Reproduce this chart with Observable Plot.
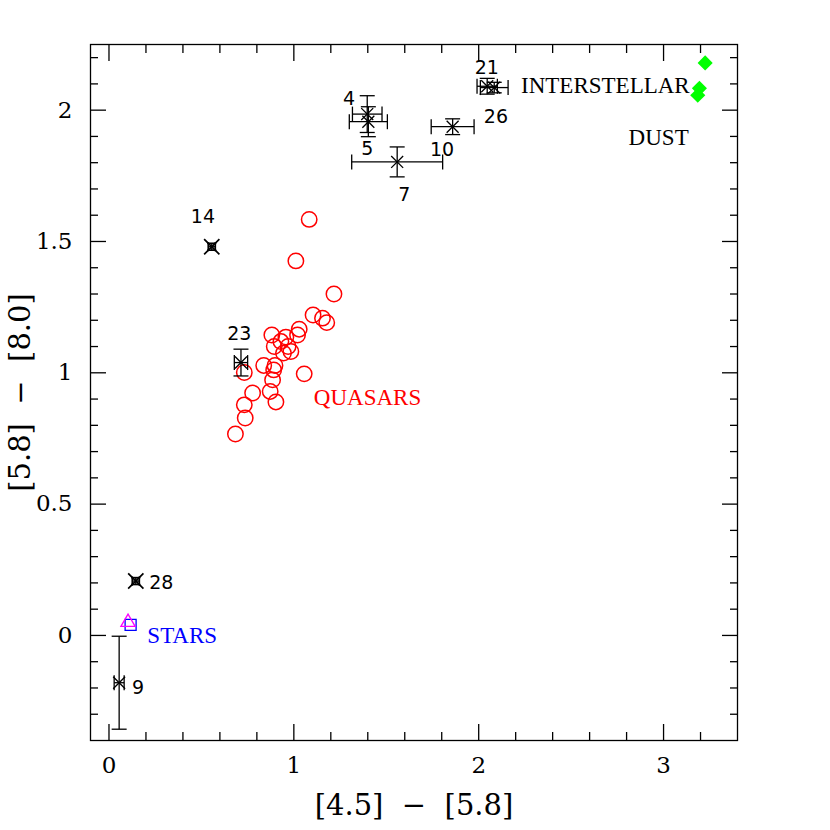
<!DOCTYPE html>
<html><head><meta charset="utf-8">
<script src="https://cdn.jsdelivr.net/npm/d3@7"></script>
<script src="https://cdn.jsdelivr.net/npm/@observablehq/plot@0.6"></script>
<style>body{margin:0;background:#fff;}</style>
</head><body><div id="chart"></div>
<script>
// Quasars (red open circles)
const quasarX = [1.083,1.011,1.217,1.104,1.155,1.178,1.029,1.020,0.881,0.957,0.930,0.894,0.969,0.944,0.984,0.837,0.898,0.891,0.732,1.056,0.885,0.777,0.872,0.903,0.732,0.737,0.684];
const quasarY = [1.584,1.426,1.300,1.220,1.208,1.191,1.166,1.144,1.144,1.136,1.119,1.100,1.100,1.075,1.081,1.028,1.028,1.011,1.001,0.996,0.973,0.923,0.929,0.889,0.878,0.828,0.767];

// Numbered objects with error bars
const objName = ["4","5","7","10","21","26","14","23","28","9"];
const objX    = [1.397,1.403,1.559,1.859,2.046,2.084,0.556,0.714,0.145,0.055];
const objY    = [1.985,1.956,1.803,1.937,2.091,2.086,1.480,1.039,0.207,-0.180];
const objXErr = [0.080,0.103,0.246,0.116,0.055,0.075,0.019,0.036,0.019,0.027];
const objYErr = [0.070,0.057,0.057,0.030,0.030,0.020,0.013,0.051,0.013,0.177];
const objLabelX = [1.298,1.397,1.598,1.802,2.044,2.093,0.508,0.705,0.283,0.157];
const objLabelY = [2.041,1.854,1.677,1.848,2.159,1.975,1.594,1.147,0.200,-0.199];

// Interstellar dust (green diamonds)
const dustX = [3.225,3.194,3.185];
const dustY = [2.180,2.083,2.057];

// Stars
const starTriX = [0.103], starTriY = [0.050];
const starSqX = [0.117], starSqY = [0.040];

// Annotations
const noteText  = ["INTERSTELLAR","DUST","QUASARS","STARS"];
const noteX     = [2.229,2.811,1.108,0.2075];
const noteY     = [2.095,1.894,0.905,0.000];
const noteColor = ["black","black","red","blue"];

// Ticks
const xMajor = [0,1,2,3];
const xMinor = [0.2,0.4,0.6,0.8,1.2,1.4,1.6,1.8,2.2,2.4,2.6,2.8,3.2];
const yMajor = [0,0.5,1,1.5,2];
const yMinor = [-0.3,-0.2,-0.1,0.1,0.2,0.3,0.4,0.6,0.7,0.8,0.9,1.1,1.2,1.3,1.4,1.6,1.7,1.8,1.9,2.1,2.2];

const xTitle = "[4.5]\u00a0\u00a0\u2212\u00a0\u00a0[5.8]";
const yTitle = "[5.8]\u00a0\u00a0\u2212\u00a0\u00a0[8.0]";

const quasars = quasarX.map((x,i)=>({x, y: quasarY[i]}));
const objs = objName.map((n,i)=>({n, x: objX[i], y: objY[i], xe: objXErr[i], ye: objYErr[i], lx: objLabelX[i], ly: objLabelY[i]}));
const dust = dustX.map((x,i)=>({x, y: dustY[i]}));
const notes = noteText.map((t,i)=>({t, x: noteX[i], y: noteY[i], c: noteColor[i]}));

const hCap = {draw(ctx, size){ const r = Math.sqrt(size/Math.PI); ctx.moveTo(-r,0); ctx.lineTo(r,0);} };
const vCap = {draw(ctx, size){ const r = Math.sqrt(size/Math.PI); ctx.moveTo(0,-r); ctx.lineTo(0,r);} };
// tiny error bars get shorter caps (they merge into an asterisk)
const tiny = d => d.xe < 0.025;
const big = d => !tiny(d);

const SW = 1.3, TICK = 16, MINOR = 8;
const tickAxes = [];
for (const [ticks, len] of [[xMajor, TICK],[xMinor, MINOR]]) {
  tickAxes.push(Plot.axisX({anchor:"bottom", ticks, tickSize: len, dy: -len, fill:"none", label:null, strokeWidth:SW, stroke:"black"}));
  tickAxes.push(Plot.axisX({anchor:"top", ticks, tickSize: len, dy: len, fill:"none", label:null, strokeWidth:SW, stroke:"black"}));
}
for (const [ticks, len] of [[yMajor, TICK],[yMinor, MINOR]]) {
  tickAxes.push(Plot.axisY({anchor:"left", ticks, tickSize: len, dx: len, fill:"none", label:null, strokeWidth:SW, stroke:"black"}));
  tickAxes.push(Plot.axisY({anchor:"right", ticks, tickSize: len, dx: -len, fill:"none", label:null, strokeWidth:SW, stroke:"black"}));
}

const capMarks = [];
for (const [filter, r, xr, sw] of [[big, 7.5, 5.5, SW],[tiny, 4.5, 7, 1.7]]) {
  const o = {filter, r, symbol: vCap, stroke: "black", fill: "none", strokeWidth: sw};
  capMarks.push(
    Plot.dot(objs, {...o, x: d=>d.x-d.xe, y: "y"}),
    Plot.dot(objs, {...o, x: d=>d.x+d.xe, y: "y"}),
    Plot.dot(objs, {...o, symbol: hCap, x: "x", y: d=>d.y-d.ye}),
    Plot.dot(objs, {...o, symbol: hCap, x: "x", y: d=>d.y+d.ye}),
    Plot.dot(objs, {...o, symbol: "times", r: xr, x: "x", y: "y"})
  );
}

const chart = Plot.plot({
  width: 830, height: 830,
  marginLeft: 90, marginRight: 93, marginTop: 44, marginBottom: 90,
  x: {domain: [-0.1, 3.4]},
  y: {domain: [-0.4, 2.25]},
  style: {background: "white", color: "black"},
  marks: [
    ...tickAxes,
    Plot.axisX({anchor:"bottom", ticks: xMajor, tickFormat: d => `${d}`, tickSize: 0, tickPadding: 16, fontSize: 23, fontFamily: "DejaVu Serif", label: null, fill: "black"}),
    Plot.axisY({anchor:"left", ticks: yMajor, tickFormat: d => `${d}`, tickSize: 0, tickPadding: 18, fontSize: 23, fontFamily: "DejaVu Serif", label: null, fill: "black"}),
    Plot.frame({stroke: "black", strokeWidth: SW}),
    Plot.text([xTitle], {frameAnchor: "bottom", dy: 65, text: d=>d, fontSize: 29, fontFamily: "DejaVu Serif", textAnchor: "middle", lineAnchor: "middle", fill: "black"}),
    Plot.text([yTitle], {frameAnchor: "left", dx: -70, rotate: -90, text: d=>d, fontSize: 29, fontFamily: "DejaVu Serif", textAnchor: "middle", lineAnchor: "middle", fill: "black"}),
    // quasars
    Plot.dot(quasars, {x: "x", y: "y", r: 7.7, stroke: "red", strokeWidth: 1.5, fill: "none"}),
    // error bars
    Plot.link(objs, {x1: d=>d.x-d.xe, x2: d=>d.x+d.xe, y1: "y", y2: "y", stroke: "black", strokeWidth: SW}),
    Plot.link(objs, {x1: "x", x2: "x", y1: d=>d.y-d.ye, y2: d=>d.y+d.ye, stroke: "black", strokeWidth: SW}),
    ...capMarks,
    Plot.text(objs, {x: "lx", y: "ly", text: "n", fontSize: 19, fontFamily: "DejaVu Sans", fill: "black"}),
    // dust
    Plot.dot(dust, {x: "x", y: "y", symbol: "diamond2", r: 6.8, fill: "#00ff00", stroke: "none"}),
    // stars
    Plot.dot(starSqX.map((x,i)=>({x, y: starSqY[i]})), {x: "x", y: "y", symbol: "square", r: 6.2, stroke: "blue", strokeWidth: 1.3, fill: "none"}),
    Plot.dot(starTriX.map((x,i)=>({x, y: starTriY[i]})), {x: "x", y: "y", symbol: "triangle", r: 5.3, stroke: "magenta", strokeWidth: 1.3, fill: "none"}),
    // annotations
    Plot.text(notes, {x: "x", y: "y", text: "t", fill: "c", textAnchor: "start", fontSize: 23, fontFamily: "Liberation Serif"})
  ]
});
document.getElementById("chart").append(chart);
</script>
</body></html>
